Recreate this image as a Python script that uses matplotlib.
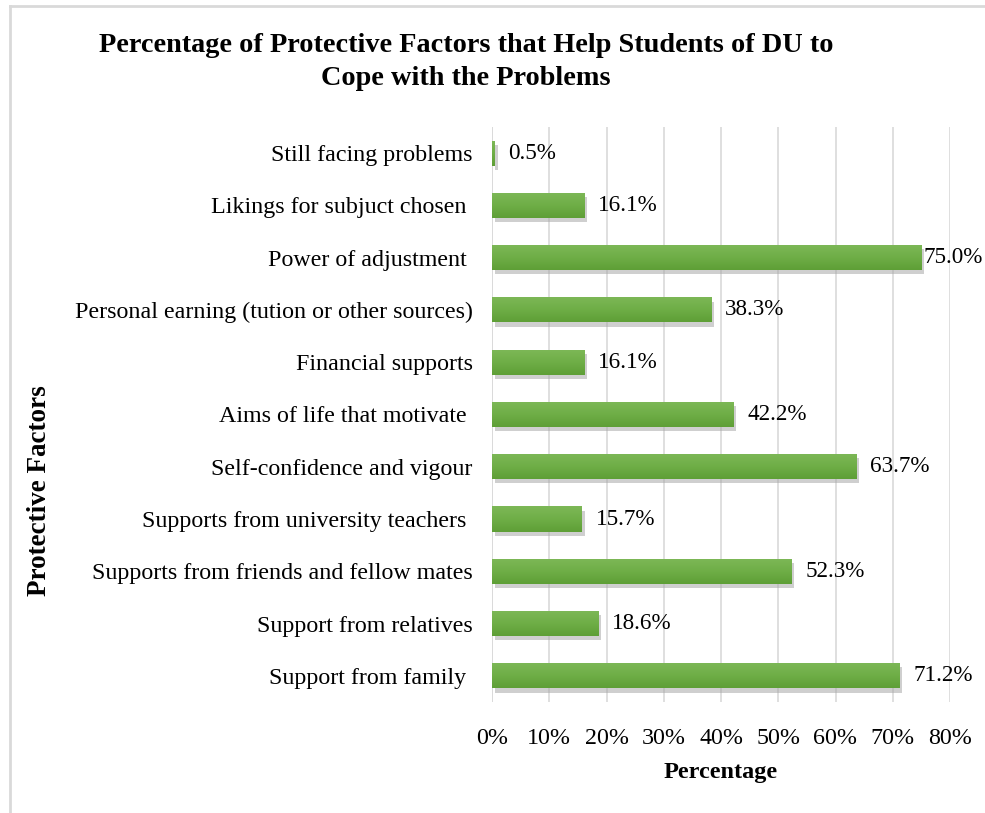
import matplotlib
matplotlib.use("Agg")
import matplotlib.pyplot as plt
import matplotlib.patheffects as pe
from matplotlib.lines import Line2D
from matplotlib.colors import LinearSegmentedColormap
import numpy as np

factors = [
    "Support from family ",
    "Support from relatives",
    "Supports from friends and fellow mates",
    "Supports from university teachers ",
    "Self-confidence and vigour",
    "Aims of life that motivate ",
    "Financial supports",
    "Personal earning (tution or other sources)",
    "Power of adjustment ",
    "Likings for subjuct chosen ",
    "Still facing problems",
]
percentages = [71.2, 18.6, 52.3, 15.7, 63.7, 42.2, 16.1, 38.3, 75.0, 16.1, 0.5]
xticks = [0, 10, 20, 30, 40, 50, 60, 70, 80]

plt.rcParams['font.family'] = ['Liberation Serif', 'DejaVu Serif']

fig = plt.figure(figsize=(9.85, 8.13), dpi=100)
ax = fig.add_axes([492/985, 1 - 702/813, (950-492)/985, (702-127)/813])

ypos = list(range(len(factors)))
bars = ax.barh(ypos, percentages, height=0.48, color='#6cab44', zorder=3)
grad = np.linspace(0, 1, 64).reshape(-1, 1)
cmap = LinearSegmentedColormap.from_list('g', ['#5e9f36', '#6fae47', '#7db857'])
for b in bars:
    b.set_path_effects([pe.SimplePatchShadow(offset=(2, -3), shadow_rgbFace='#a8a8a8', alpha=0.55), pe.Normal()])
    x0, y0, w, h = b.get_x(), b.get_y(), b.get_width(), b.get_height()
    im = ax.imshow(grad, cmap=cmap, extent=(x0, x0 + w, y0, y0 + h), aspect='auto', zorder=4, origin='lower')
    im.set_clip_path(b)

for y, v in zip(ypos, percentages):
    ax.text(min(v + 2.4, 75.35), y, f"{v:.1f}%", va='center', ha='left', fontsize=16.7, clip_on=False)

ax.set_xlim(0, 80)
ax.set_ylim(-0.5, len(factors) - 0.5)
ax.set_yticks(ypos)
ax.set_yticklabels(factors, fontsize=17.3)
ax.set_xticks(xticks)
ax.set_xticklabels([f"{t}%" for t in xticks], fontsize=17.3)
ax.tick_params(axis='both', length=0)
ax.tick_params(axis='y', pad=14)
ax.tick_params(axis='x', pad=19)
ax.grid(axis='x', color='#d9d9d9', linewidth=1.2, zorder=0)
for s in ax.spines.values():
    s.set_visible(False)
ax.axvline(0, color='#d9d9d9', linewidth=1.2, zorder=1)

ax.set_xlabel("Percentage", fontsize=17.5, fontweight='bold', labelpad=9)
fig.text(40/985, 1 - 491/813, "Protective Factors", rotation=90, fontsize=19.5, fontweight='bold',
         ha='center', va='center')
fig.text(466/985, 1 - 62/813,
         "Percentage of Protective Factors that Help Students of DU to\nCope with the Problems",
         ha='center', va='center', fontsize=20.3, fontweight='bold', linespacing=1.45)

fig.add_artist(Line2D([10/985, 10/985], [0, 1 - 6/813], transform=fig.transFigure, color='#d9d9d9', linewidth=2))
fig.add_artist(Line2D([10/985, 1], [1 - 6/813, 1 - 6/813], transform=fig.transFigure, color='#d9d9d9', linewidth=2))

fig.savefig("out.png", dpi=100)
